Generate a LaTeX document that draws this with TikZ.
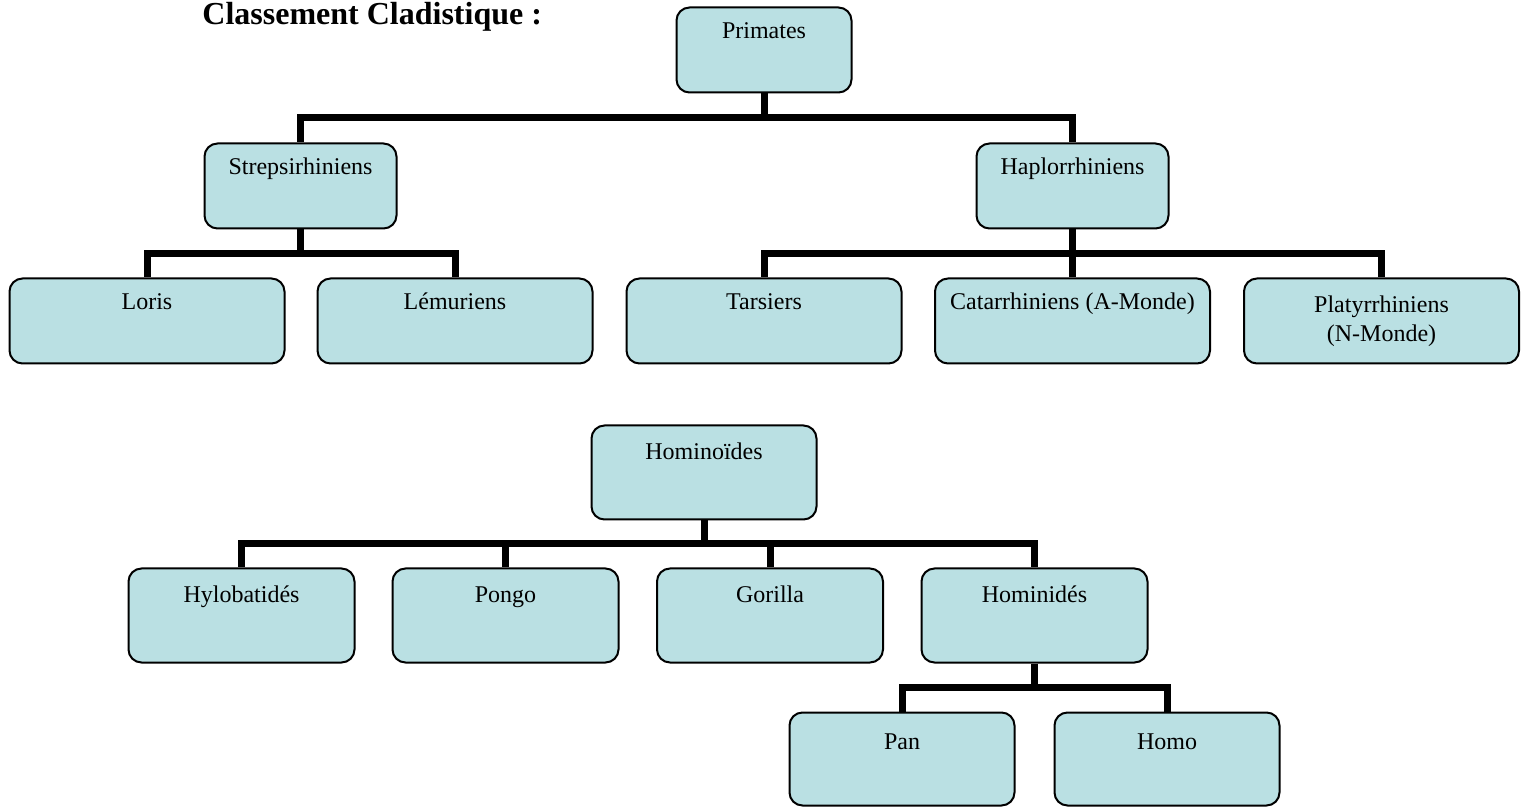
\documentclass[tikz,border=0pt]{standalone}
\usepackage{fontspec}
\setmainfont{Liberation Serif}
\usetikzlibrary{calc,positioning}
\definecolor{cladeblue}{RGB}{186,224,227}
\tikzset{
  clade/.style={rectangle, draw, line width=1pt, fill=cladeblue, rounded corners=6.5pt, inner sep=0pt},
  cladetext/.style={anchor=base, inner sep=0pt, align=center, font=\fontsize{12}{14.4}\selectfont},
  branch/.style={line width=3.5pt},
}
\begin{document}
\begin{tikzpicture}[x=0.5pt, y=-0.5pt]

  \useasboundingbox (0,0) rectangle (1527,807);

  \node[anchor=base west, inner sep=0pt, font=\fontsize{16}{19}\selectfont\bfseries] (title) at (202,25) {Classement Cladistique :};

  \node[clade, minimum width=87.5pt, minimum height=42.5pt, label={[cladetext, yshift=-16pt]north:Primates}] (primates) at (764,50) {};

  \node[clade, minimum width=96pt, minimum height=42.5pt, label={[cladetext, yshift=-16pt]north:Strepsirhiniens}] (strep) at (300.5,186) {};
  \node[clade, minimum width=96pt, minimum height=42.5pt, label={[cladetext, yshift=-16pt]north:Haplorrhiniens}] (haplo) at (1072.5,186) {};

  \node[clade, minimum width=137.5pt, minimum height=42.5pt, label={[cladetext, yshift=-16pt]north:Loris}] (loris) at (147,321) {};
  \node[clade, minimum width=137.5pt, minimum height=42.5pt, label={[cladetext, yshift=-16pt]north:Lémuriens}] (lemur) at (455,321) {};
  \node[clade, minimum width=137.5pt, minimum height=42.5pt, label={[cladetext, yshift=-16pt]north:Tarsiers}] (tarsier) at (764,321) {};
  \node[clade, minimum width=137.5pt, minimum height=42.5pt, label={[cladetext, yshift=-16pt]north:Catarrhiniens (A-Monde)}] (catarr) at (1072.5,321) {};
  \node[clade, minimum width=137.5pt, minimum height=42.5pt, label={[cladetext, yshift=-32pt]north:{Platyrrhiniens\\(N-Monde)}}] (platyrr) at (1381.5,321) {};

  \node[clade, minimum width=112.5pt, minimum height=47pt, label={[cladetext, yshift=-17.5pt]north:Hominoïdes}] (hominoid) at (704,472.5) {};

  \node[clade, minimum width=113pt, minimum height=47pt, label={[cladetext, yshift=-17.5pt]north:Hylobatidés}] (hylobat) at (241.5,615.5) {};
  \node[clade, minimum width=113pt, minimum height=47pt, label={[cladetext, yshift=-17.5pt]north:Pongo}] (pongo) at (505.5,615.5) {};
  \node[clade, minimum width=113pt, minimum height=47pt, label={[cladetext, yshift=-17.5pt]north:Gorilla}] (gorilla) at (770,615.5) {};
  \node[clade, minimum width=113pt, minimum height=47pt, label={[cladetext, yshift=-17.5pt]north:Hominidés}] (hominid) at (1034.5,615.5) {};

  \node[clade, minimum width=112.5pt, minimum height=46.5pt, label={[cladetext, yshift=-19pt]north:Pan}] (pan) at (902,759) {};
  \node[clade, minimum width=112.5pt, minimum height=46.5pt, label={[cladetext, yshift=-19pt]north:Homo}] (homo) at (1167,759) {};

  \foreach \kid in {strep,haplo}
    \draw[branch] (primates.south) |- ($(primates.south)!.5!(\kid.north)$) -| (\kid.north);
  \foreach \kid in {loris,lemur}
    \draw[branch] (strep.south) |- ($(strep.south)!.5!(\kid.north)$) -| (\kid.north);
  \foreach \kid in {tarsier,catarr,platyrr}
    \draw[branch] (haplo.south) |- ($(haplo.south)!.5!(\kid.north)$) -| (\kid.north);
  \foreach \kid in {hylobat,pongo,gorilla,hominid}
    \draw[branch] (hominoid.south) |- ($(hominoid.south)!.5!(\kid.north)$) -| (\kid.north);
  \foreach \kid in {pan,homo}
    \draw[branch] (hominid.south) |- ($(hominid.south)!.5!(\kid.north)$) -| (\kid.north);

\end{tikzpicture}
\end{document}
